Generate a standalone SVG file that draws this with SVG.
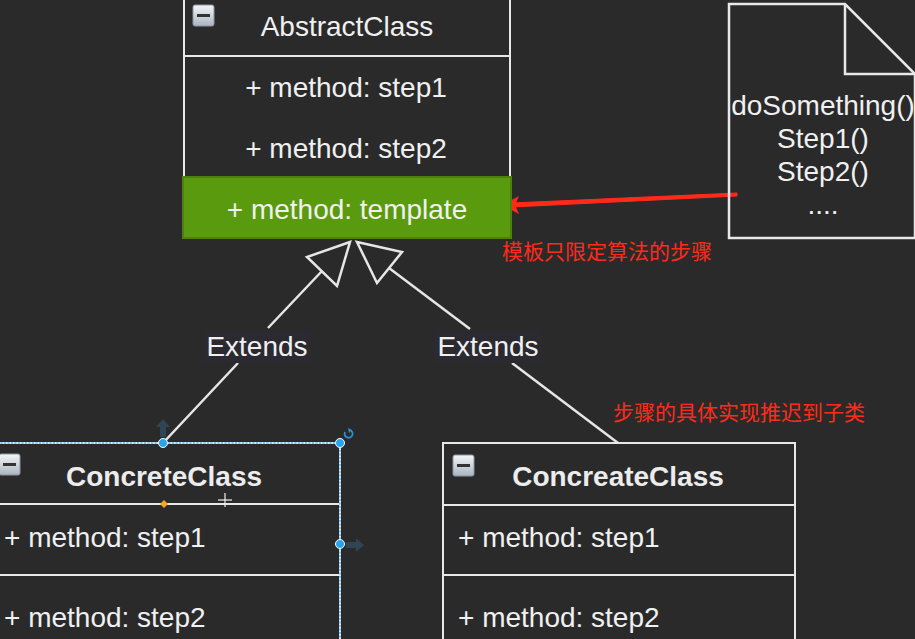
<svg xmlns="http://www.w3.org/2000/svg" width="915" height="639" viewBox="0 0 915 639">
<defs>
<style>
.bg{fill:#2a2a2b}
.box{fill:none;stroke:#e8e8e8;stroke-width:2}
.t{font-family:"Liberation Sans",Arial,sans-serif;font-size:28px;fill:#f0f0f0}
.tb{font-family:"Liberation Sans",Arial,sans-serif;font-size:28px;font-weight:bold;fill:#ececec}
.red{font-family:"Noto Sans CJK SC","Liberation Sans",sans-serif;font-size:21px;fill:#ff2a1a}
.conn{fill:none;stroke:#e6e6e6;stroke-width:2.5}
.tri{fill:#2a2a2b;stroke:#e6e6e6;stroke-width:2.5;stroke-linejoin:miter}
.lbl{fill:#2b2a30}
.handle{fill:#29a3f0;stroke:#ffffff;stroke-width:1}
.ghost{fill:#2f4553}
</style>
<linearGradient id="ig" x1="0" y1="0" x2="0" y2="1">
<stop offset="0" stop-color="#f4f6f8"/>
<stop offset="1" stop-color="#aab4c0"/>
</linearGradient>
<g id="minus">
<rect x="0" y="0" width="21" height="21" rx="2" fill="url(#ig)" stroke="#8a96a4" stroke-width="1"/>
<rect x="4" y="9" width="13" height="3" fill="#333"/>
</g>
</defs>
<rect class="bg" x="0" y="0" width="915" height="639"/>

<g id="connectors">
<line class="conn" x1="322" y1="271" x2="268" y2="328"/>
<line class="conn" x1="238" y1="363" x2="163" y2="443"/>
<polygon class="tri" points="350,242 307,257 337,286"/>
<line class="conn" x1="389" y1="268" x2="470" y2="329"/>
<line class="conn" x1="512" y1="363" x2="618" y2="443"/>
<polygon class="tri" points="357,242 402,252 377,283"/>
<rect class="lbl" x="203" y="330" width="108" height="33"/>
<text class="t" x="257" y="356" text-anchor="middle">Extends</text>
<rect class="lbl" x="434" y="330" width="108" height="33"/>
<text class="t" x="488" y="356" text-anchor="middle">Extends</text>
<path d="M737,193 L737,196 L512,207 L512,203 Z" fill="#ff2a1a" stroke="#ff2a1a" stroke-width="1"/>
<path d="M502,205 L519,196 L515,205 L519,214 Z" fill="#ff2a1a"/>
</g>

<g id="abstract-class">
<line class="box" x1="184" y1="0" x2="184" y2="178"/>
<line class="box" x1="510" y1="0" x2="510" y2="178"/>
<line class="box" x1="184" y1="56" x2="510" y2="56"/>
<use href="#minus" x="193" y="5"/>
<text class="t" x="347" y="36" text-anchor="middle">AbstractClass</text>
<text class="t" x="346" y="97" text-anchor="middle">+ method: step1</text>
<text class="t" x="346" y="158" text-anchor="middle">+ method: step2</text>
<rect x="183" y="177" width="328" height="61" fill="#5a9a0e" stroke="#4c820c" stroke-width="2"/>
<text class="t" x="347" y="219" text-anchor="middle">+ method: template</text>
</g>

<g id="note">
<path d="M729,4 L845,4 L915,74 L915,238 L729,238 Z" fill="none" stroke="#e8e8e8" stroke-width="2.5"/>
<path d="M845,4 L845,74 L915,74" fill="none" stroke="#e8e8e8" stroke-width="2.5"/>
<text class="t" x="823" y="115" text-anchor="middle">doSomething()</text>
<text class="t" x="823" y="148" text-anchor="middle">Step1()</text>
<text class="t" x="823" y="181" text-anchor="middle">Step2()</text>
<text class="t" x="823" y="214" text-anchor="middle">....</text>
</g>

<g id="note-text-1">
<text class="red" x="502" y="259">模板只限定算法的步骤</text>
</g>
<g id="note-text-2">
<text class="red" x="613" y="420">步骤的具体实现推迟到子类</text>
</g>

<g id="concrete-class-left">
<rect class="box" x="-10" y="443" width="350" height="220"/>
<line class="box" x1="-10" y1="504" x2="340" y2="504"/>
<line class="box" x1="-10" y1="575" x2="340" y2="575"/>
<use href="#minus" x="-1" y="454"/>
<text class="tb" x="164" y="486" text-anchor="middle">ConcreteClass</text>
<text class="t" x="4" y="547">+ method: step1</text>
<text class="t" x="4" y="627">+ method: step2</text>
<path d="M-10,443 L340,443 L340,650" fill="none" stroke="#5ab4f0" stroke-width="1.5" stroke-dasharray="2,1.5"/>
<path d="M163,419 L156,427 L160,427 L160,437 L166,437 L166,427 L170,427 Z" class="ghost"/>
<path d="M364,545 L356,538 L356,542 L346,542 L346,548 L356,548 L356,552 Z" class="ghost"/>
<circle class="handle" cx="163" cy="443" r="4.5"/>
<circle class="handle" cx="340" cy="443" r="4.5"/>
<circle class="handle" cx="340" cy="544" r="4.5"/>
<path d="M164,500 L168,504 L164,508 L160,504 Z" fill="#f5a623"/>
<path d="M345,432 A4,4 0 1 0 350,430" fill="none" stroke="#2a8fd6" stroke-width="1.8"/>
<path d="M348,428 L352,430 L349,433 Z" fill="#2a8fd6"/>
<g stroke="#f0f0f0" stroke-width="1.2" fill="#f0f0f0">
<line x1="218" y1="500" x2="232" y2="500"/>
<line x1="225" y1="493" x2="225" y2="507"/>
</g>
</g>

<g id="concrete-class-right">
<rect class="box" x="443" y="443" width="352" height="220"/>
<line class="box" x1="443" y1="505" x2="795" y2="505"/>
<line class="box" x1="443" y1="575" x2="795" y2="575"/>
<use href="#minus" x="453" y="455"/>
<text class="tb" x="618" y="486" text-anchor="middle">ConcreateClass</text>
<text class="t" x="458" y="547">+ method: step1</text>
<text class="t" x="458" y="627">+ method: step2</text>
</g>
</svg>
